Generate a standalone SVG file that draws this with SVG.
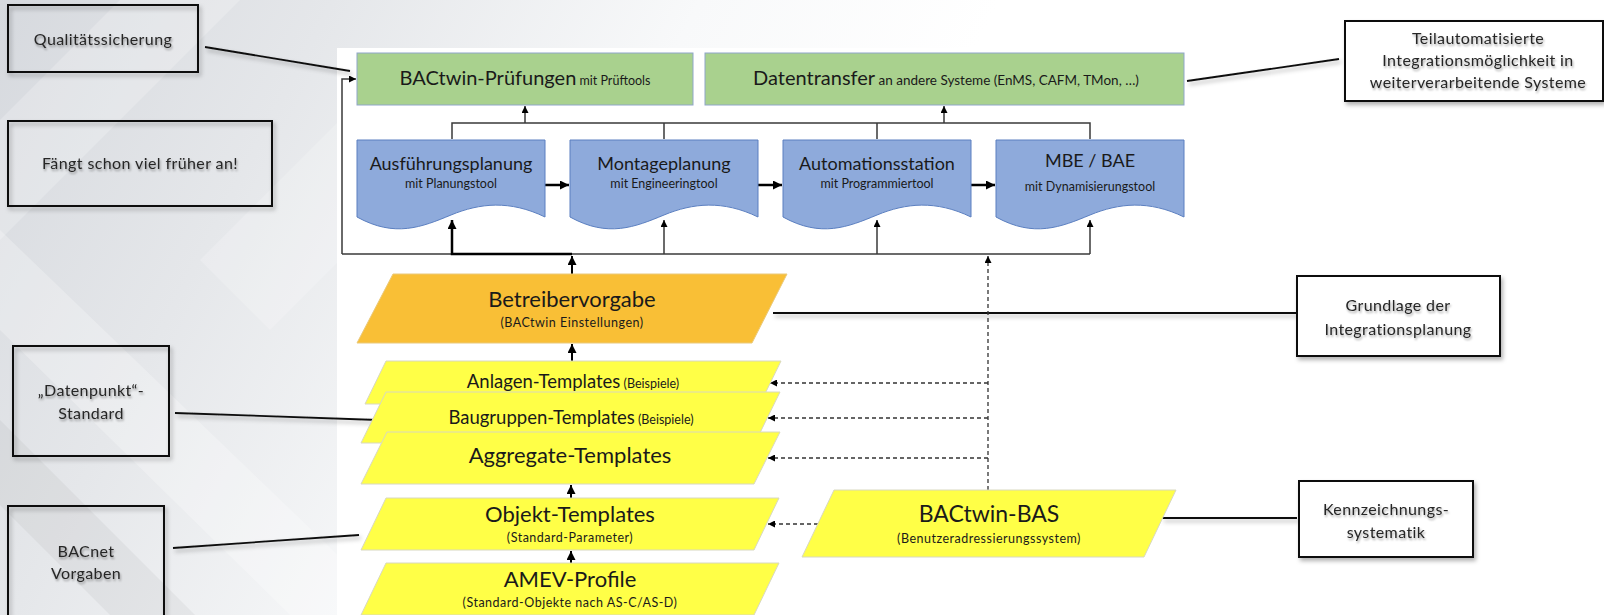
<svg xmlns="http://www.w3.org/2000/svg" width="1604" height="615" viewBox="0 0 1604 615">
<defs>
<linearGradient id="bg" x1="0" y1="0" x2="1" y2="0.2">
<stop offset="0" stop-color="#d6d9de"/>
<stop offset="0.2" stop-color="#e5e7ea"/>
<stop offset="0.42" stop-color="#f8f9fa"/>
<stop offset="0.6" stop-color="#ffffff"/>
</linearGradient>
<filter id="sh" x="-10%" y="-10%" width="130%" height="150%"><feDropShadow dx="2" dy="3" stdDeviation="2" flood-color="#000" flood-opacity="0.3"/></filter>
<filter id="lsh" filterUnits="userSpaceOnUse" x="0" y="0" width="1604" height="615"><feDropShadow dx="2" dy="3" stdDeviation="2" flood-color="#000" flood-opacity="0.3"/></filter>
<filter id="tsh" x="-10%" y="-30%" width="120%" height="180%"><feDropShadow dx="1" dy="2" stdDeviation="1.3" flood-color="#000" flood-opacity="0.35"/></filter>
<marker id="ah" viewBox="0 0 10 10" refX="10" refY="5" markerWidth="9" markerHeight="9" markerUnits="userSpaceOnUse" orient="auto"><path d="M0,0 L10,5 L0,10 z" fill="#000"/></marker>
<marker id="ahs" viewBox="0 0 10 10" refX="10" refY="5" markerWidth="7" markerHeight="7" markerUnits="userSpaceOnUse" orient="auto"><path d="M0,0 L10,5 L0,10 z" fill="#000"/></marker>
<style>
.ann rect{stroke:#111;stroke-width:2;}
.annl rect{fill:none;}
.annr rect{fill:#fff;}
.at{font-family:Lato,"Open Sans",sans-serif;font-size:16px;fill:#262626;text-anchor:middle;letter-spacing:0.4px;}
.t{font-family:Lato,"Open Sans",sans-serif;fill:#1a1a1a;text-anchor:middle;}
.green{fill:#a9d18e;stroke:#8fa6c9;stroke-width:1;}
.doc{fill:#8eaadb;stroke:#5b7fc0;stroke-width:1;}
.yel{fill:#ffff47;stroke:#d8d8c0;stroke-width:1;}
.org{fill:#f9bf36;stroke:#eac97a;stroke-width:1;}
.big{font-size:20px;}
.sm{font-size:12.5px;}
.gs{font-size:13.5px;}
.sub{font-size:12.5px;letter-spacing:0.5px;}
.ln{fill:none;stroke:#3a3a3a;stroke-width:1.5;}
.thk{fill:none;stroke:#000;stroke-width:2.5;}
.mid{fill:none;stroke:#000;stroke-width:2;}
.dsh{fill:none;stroke:#333;stroke-width:1.3;stroke-dasharray:4 3;}
.al{fill:none;stroke:#111;stroke-width:1.8;}
</style>
</defs>

<rect x="0" y="0" width="1604" height="615" fill="url(#bg)"/>
<g id="bgpattern">
<polygon points="120,0 240,0 0,240 0,120" fill="#fff" opacity="0.22"/>
<polygon points="0,230 0,330 290,615 400,615" fill="#fff" opacity="0.25"/>
<polygon points="0,420 195,615 110,615 0,505" fill="#000" opacity="0.04"/>
<polygon points="200,260 340,120 340,260 270,330" fill="#fff" opacity="0.2"/>
</g>
<rect x="337" y="48" width="860" height="567" fill="#fff"/>

<g id="connectors">
<g filter="url(#lsh)">
<path class="al" d="M205,47 L350,71"/>
<path class="al" d="M175,413 L378,420"/>
<path class="al" d="M173,548 L359,535"/>
<path class="al" d="M1187,81 L1339,59"/>
<path class="al" d="M773,313 L1296,313"/>
<path class="al" d="M1162,518 L1297,518"/>
</g>

<path class="ln" d="M452,139 V123 H1090 V139 M664,123 V139 M877,123 V139"/>
<path class="ln" marker-end="url(#ahs)" d="M525,123 V106"/>
<path class="ln" marker-end="url(#ahs)" d="M944,123 V106"/>
<path class="ln" d="M342,254 H1090"/>
<path class="ln" marker-end="url(#ahs)" d="M342,254 V79 H356"/>
<path class="ln" marker-end="url(#ahs)" d="M664,254 V220"/>
<path class="ln" marker-end="url(#ahs)" d="M877,254 V220"/>
<path class="ln" marker-end="url(#ahs)" d="M1090,254 V220"/>
<path class="thk" marker-end="url(#ah)" d="M572,254 H452 V220"/>
<path class="mid" marker-end="url(#ah)" d="M572,274 V256"/>
<path class="mid" marker-end="url(#ah)" d="M572,361 V344"/>
<path class="mid" marker-end="url(#ah)" d="M571,498 V485"/>
<path class="mid" marker-end="url(#ah)" d="M571,563 V551"/>
<path class="thk" marker-end="url(#ah)" d="M545,185 H569"/>
<path class="thk" marker-end="url(#ah)" d="M758,185 H782"/>
<path class="thk" marker-end="url(#ah)" d="M971,185 H995"/>
<path class="dsh" marker-end="url(#ahs)" d="M988,490 V256"/>
<path class="dsh" marker-end="url(#ahs)" d="M988,383 H770"/>
<path class="dsh" marker-end="url(#ahs)" d="M988,418 H768"/>
<path class="dsh" marker-end="url(#ahs)" d="M988,458 H768"/>
<path class="dsh" marker-end="url(#ahs)" d="M818,524 H768"/>
</g>

<g id="n-qualitaet" class="ann annl">
<rect x="8" y="5" width="190" height="67" filter="url(#sh)"/>
<text class="at" x="103" y="45" filter="url(#tsh)">Qualitätssicherung</text>
</g>
<g id="n-faengt" class="ann annl">
<rect x="8" y="121" width="264" height="85" filter="url(#sh)"/>
<text class="at" x="140" y="169" filter="url(#tsh)">Fängt schon viel früher an!</text>
</g>
<g id="n-datenpunkt" class="ann annl">
<rect x="13" y="346" width="156" height="110" filter="url(#sh)"/>
<text class="at" x="91" y="396" filter="url(#tsh)">„Datenpunkt“-</text>
<text class="at" x="91" y="419" filter="url(#tsh)">Standard</text>
</g>
<g id="n-bacnet" class="ann annl">
<rect x="8" y="506" width="156" height="120" filter="url(#sh)"/>
<text class="at" x="86" y="557" filter="url(#tsh)">BACnet</text>
<text class="at" x="86" y="579" filter="url(#tsh)">Vorgaben</text>
</g>
<g id="n-teilauto" class="ann annr">
<rect x="1345" y="21" width="258" height="80" filter="url(#sh)"/>
<text class="at" x="1478" y="44" filter="url(#tsh)">Teilautomatisierte</text>
<text class="at" x="1478" y="66" filter="url(#tsh)">Integrationsmöglichkeit in</text>
<text class="at" x="1478" y="88" filter="url(#tsh)">weiterverarbeitende Systeme</text>
</g>
<g id="n-grundlage" class="ann annr">
<rect x="1297" y="276" width="203" height="80" filter="url(#sh)"/>
<text class="at" x="1398" y="311" filter="url(#tsh)">Grundlage der</text>
<text class="at" x="1398" y="335" filter="url(#tsh)">Integrationsplanung</text>
</g>
<g id="n-kennz" class="ann annr">
<rect x="1299" y="481" width="174" height="76" filter="url(#sh)"/>
<text class="at" x="1386" y="515" filter="url(#tsh)">Kennzeichnungs-</text>
<text class="at" x="1386" y="538" filter="url(#tsh)">systematik</text>
</g>

<g id="n-pruefungen">
<rect class="green" x="357" y="53" width="336" height="52"/>
<text class="t" x="525" y="85"><tspan class="big">BACtwin-Prüfungen</tspan><tspan class="sm"> mit Prüftools</tspan></text>
</g>
<g id="n-datentransfer">
<rect class="green" x="705" y="53" width="479" height="52"/>
<text class="t" x="946" y="85"><tspan class="big">Datentransfer</tspan><tspan class="gs"> an andere Systeme (EnMS, CAFM, TMon, …)</tspan></text>
</g>

<g id="n-ausfuehrung">
<path class="doc" d="M357,140 H545 V217 C510,200 480,203 451,215 S395,238 357,217 Z"/>
<text class="t" x="451" y="170" font-size="18">Ausführungsplanung</text>
<text class="t sm" x="451" y="188">mit Planungstool</text>
</g>
<g id="n-montage">
<path class="doc" d="M570,140 H758 V217 C723,200 693,203 664,215 S608,238 570,217 Z"/>
<text class="t" x="664" y="170" font-size="18">Montageplanung</text>
<text class="t sm" x="664" y="188">mit Engineeringtool</text>
</g>
<g id="n-automation">
<path class="doc" d="M783,140 H971 V217 C936,200 906,203 877,215 S821,238 783,217 Z"/>
<text class="t" x="877" y="170" font-size="18">Automationsstation</text>
<text class="t sm" x="877" y="188">mit Programmiertool</text>
</g>
<g id="n-mbe">
<path class="doc" d="M996,140 H1184 V217 C1149,200 1119,203 1090,215 S1034,238 996,217 Z"/>
<text class="t" x="1090" y="167" font-size="18">MBE / BAE</text>
<text class="t sm" x="1090" y="191">mit Dynamisierungstool</text>
</g>

<g id="n-betreiber">
<polygon class="org" points="393,274 787,274 752,343 357,343"/>
<text class="t" x="572" y="307" font-size="22">Betreibervorgabe</text>
<text class="t sub" x="572" y="327">(BACtwin Einstellungen)</text>
</g>
<g id="n-anlagen">
<polygon class="yel" points="386,361 781,361 760,404 365,404"/>
<text class="t" x="573" y="388"><tspan font-size="18.5">Anlagen-Templates</tspan><tspan class="sm"> (Beispiele)</tspan></text>
</g>
<g id="n-baugruppen">
<polygon class="yel" points="386,392 780,392 755,443 361,443"/>
<text class="t" x="571" y="424"><tspan font-size="18.5">Baugruppen-Templates</tspan><tspan class="sm"> (Beispiele)</tspan></text>
</g>
<g id="n-aggregate">
<polygon class="yel" points="387,432 780,432 754,484 361,484"/>
<text class="t" x="570" y="463" font-size="22">Aggregate-Templates</text>
</g>
<g id="n-objekt">
<polygon class="yel" points="386,498 779,498 754,550 361,550"/>
<text class="t" x="570" y="522" font-size="22">Objekt-Templates</text>
<text class="t sub" x="570" y="542">(Standard-Parameter)</text>
</g>
<g id="n-amev">
<polygon class="yel" points="386,563 779,563 754,615 361,615"/>
<text class="t" x="570" y="587" font-size="22">AMEV-Profile</text>
<text class="t sub" x="570" y="607">(Standard-Objekte nach AS-C/AS-D)</text>
</g>
<g id="n-bas">
<polygon class="yel" points="834,490 1176,490 1144,557 802,557"/>
<text class="t" x="989" y="522" font-size="23">BACtwin-BAS</text>
<text class="t sub" x="989" y="543">(Benutzeradressierungssystem)</text>
</g>
</svg>
